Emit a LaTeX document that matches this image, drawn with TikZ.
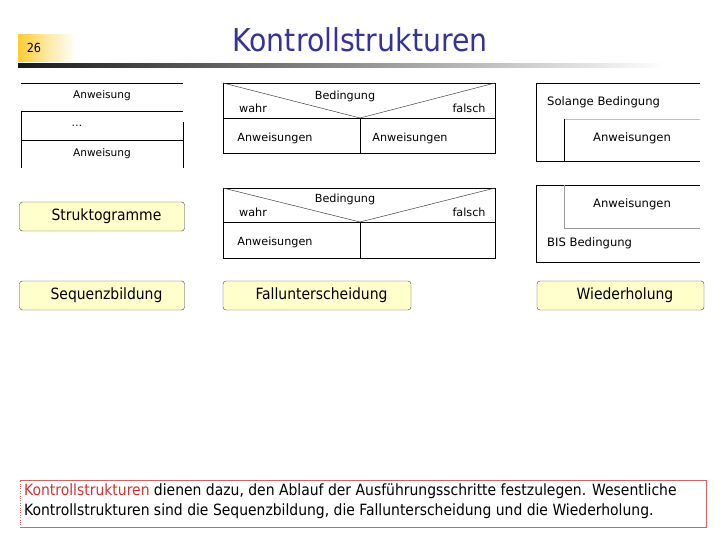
\documentclass[tikz,border=0pt]{standalone}
\usepackage{fontspec}
\setmainfont{DejaVu Sans Condensed}
\newfontfamily\diafont{DejaVu Sans}
\usetikzlibrary{positioning}
\definecolor{titleblue}{HTML}{333399}
\definecolor{boxyellow}{HTML}{FFFFCC}
\definecolor{numyellow}{HTML}{FFCC33}
\definecolor{noteframe}{HTML}{CC6666}
\definecolor{notered}{HTML}{CC3333}
\tikzset{
  labelbox/.style={draw=black!75, fill=boxyellow, rounded corners=3pt,
    minimum height=29pt, inner sep=0pt, font=\fontsize{15.5}{16}\selectfont,
    execute at begin node=\hspace*{9pt}},
  diatext/.style={font=\diafont\fontsize{10.6}{12}\selectfont, inner sep=0pt},
  falltext/.style={font=\diafont\fontsize{11.2}{12}\selectfont, inner sep=0pt},
  looptext/.style={font=\diafont\fontsize{11.6}{12}\selectfont, inner sep=0pt},
  frame/.style={line width=0.8pt},
  thinline/.style={line width=0.5pt, black!75},
}

\begin{document}
\begin{tikzpicture}[x=1pt,y=-1pt]
\useasboundingbox (0,0) rectangle (720,540);

% Title bar
\shade[left color=numyellow, right color=white, middle color=numyellow!45] (18,35) rectangle (76,62);
\node (num) at (34,48) {\fontsize{12.5}{13}\selectfont 26};
\shade[left color=black!90, right color=white] (18,63.5) rectangle (665,67.5);
\node[titleblue] (title) at (360,40) {\fontsize{31.5}{32}\selectfont Kontrollstrukturen};

% Sequenz
\draw[frame] (21,83) -- (183,83);
\draw[frame] (21,111) -- (183,111);
\draw[frame] (21,140) -- (183,140);
\draw[frame] (21,111) -- (21,168);
\draw[frame] (183,122) -- (183,168);
\node[diatext] (seqa) at (102,96) {Anweisung};
\node[diatext] (seqdots) at (77,126) {\dots};
\node[diatext] (seqb) at (102,154) {Anweisung};

% Fallunterscheidung (zweiseitig)
\draw[frame] (223,83) rectangle (495,153);
\draw[frame] (223,118) -- (495,118);
\draw[frame] (360,118) -- (360,153);
\draw[thinline] (223,83) -- (360,118) -- (495,83);
\node[falltext] (bedA) at (345,96) {Bedingung};
\node[falltext] (wahrA) at (253,108) {wahr};
\node[falltext] (falschA) at (469,108) {falsch};
\node[falltext] (anwA) at (275,138) {Anweisungen};
\node[falltext] (anwB) at (410,138) {Anweisungen};

% Fallunterscheidung (einseitig)
\draw[frame] (223,188) rectangle (495,258);
\draw[frame] (223,222) -- (495,222);
\draw[frame] (360,222) -- (360,258);
\draw[thinline] (223,188) -- (360,222) -- (495,188);
\node[falltext] (bedB) at (345,199) {Bedingung};
\node[falltext] (wahrB) at (253,212) {wahr};
\node[falltext] (falschB) at (469,212) {falsch};
\node[falltext] (anwC) at (275,242) {Anweisungen};

% Wiederholung (solange)
\draw[frame] (700,83) -- (536,83) -- (536,161) -- (700,161);
\draw[black!25] (564,119) -- (700,119);
\draw[frame] (564,119) -- (564,161);
\node[looptext, anchor=west] (solange) at (547,102) {Solange Bedingung};
\node[looptext] (anwD) at (632,138) {Anweisungen};

% Wiederholung (bis)
\draw[frame] (700,185) -- (536,185) -- (536,262) -- (700,262);
\draw[black!40] (564,185) -- (564,228) -- (700,228);
\node[looptext] (anwE) at (632,204) {Anweisungen};
\node[looptext, anchor=west] (bis) at (547,243) {BIS Bedingung};

% Labels
\node[labelbox, minimum width=165pt] (strukt) at (102,216.5) {Struktogramme};
\node[labelbox, minimum width=165pt] (sequenz) at (102,295.5) {Sequenzbildung};
\node[labelbox, minimum width=188pt] (fall) at (317,295.5) {Fallunterscheidung};
\node[labelbox, minimum width=167pt] (wieder) at (620.5,295.5) {Wiederholung};

% Note
\node[minimum width=686pt, minimum height=47pt, inner sep=0pt] (note) at (363,503.5) {};
\draw[noteframe] (note.north west) -- (note.north east) -- (note.south east) -- (note.south west);
\draw[noteframe, dotted] (note.south west) -- (note.north west);
\node[anchor=north west, align=left, inner sep=0pt, font=\fontsize{15.5}{20}\selectfont]
  (notetext) at (24,484)
  {\textcolor{notered}{Kontrollstrukturen} dienen dazu, den Ablauf der Ausführungsschritte festzulegen. Wesentliche\\
   Kontrollstrukturen sind die Sequenzbildung, die Fallunterscheidung und die Wiederholung.};
\end{tikzpicture}
\end{document}
